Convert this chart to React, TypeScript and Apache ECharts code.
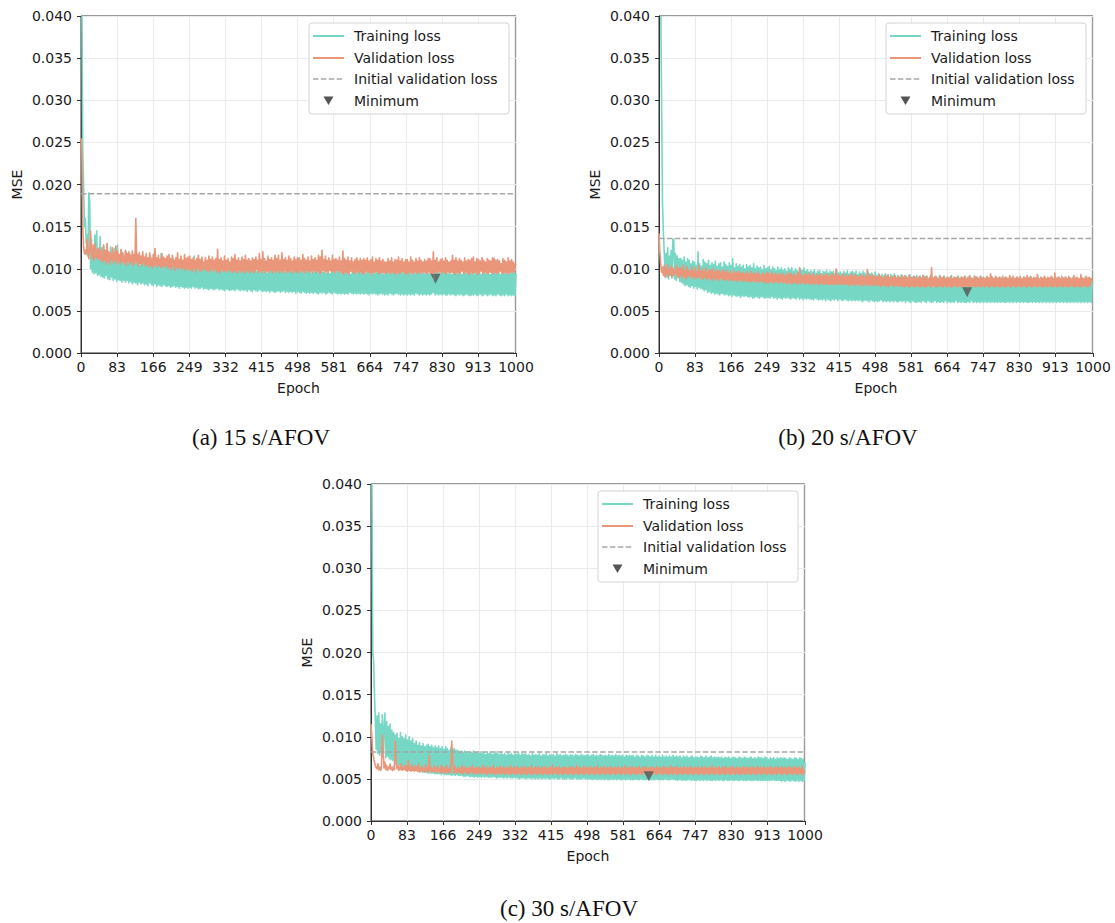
import React, { useEffect, useRef } from "react";
import * as echarts from "echarts";

// ---------- DATA ----------
// Losses every 2 epochs (epochs 0,2,4,...,1000), in units of 1e-4 MSE.
const EPOCH_STEP = 2;
const UNIT = 1e-4;
const X_TICK_INTERVAL = 83;
const Y_MAX = 0.04;
const Y_INTERVAL = 0.005;

const CAPTIONS = ["(a) 15 s/AFOV", "(b) 20 s/AFOV", "(c) 30 s/AFOV"];
const LEGEND_LABELS = ["Training loss", "Validation loss", "Initial validation loss", "Minimum"];

const TRAIN_A = [
  450,420,240,200,150,160,130,140,115,190,180,100,135,96,125,94,140,95,145,92,120,93,138,91,125,
  90,128,89,118,92,130,88,115,87,126,90,112,86,124,88,120,85,128,87,110,86,122,84,118,86,
  112,84,120,86,108,83,118,85,110,82,116,84,106,83,114,81,112,84,104,82,115,83,108,81,110,
  82,112,80,106,83,115,81,104,80,110,82,108,79,113,81,105,80,118,79,108,81,104,80,111,79,
  106,80,110,78,104,79,112,80,102,78,108,79,105,77,110,79,100,78,107,77,104,78,109,77,103,
  78,106,77,102,79,115,77,104,78,100,76,107,77,103,78,99,76,105,77,101,76,104,75,100,77,
  103,76,99,75,105,76,100,77,97,75,104,76,98,75,102,74,100,76,96,75,103,74,99,75,101,
  75,98,74,102,76,97,75,100,74,104,75,96,74,101,75,98,73,103,75,97,74,100,73,99,75,
  102,74,97,73,100,75,96,74,103,73,98,74,101,73,95,74,100,72,97,74,102,73,96,72,99,
  73,100,74,96,72,101,73,97,74,99,72,95,73,102,72,97,73,100,72,96,73,98,71,101,73,
  97,72,100,71,95,73,99,72,96,71,101,72,97,71,98,72,94,71,100,72,96,71,99,70,95,
  72,99,71,96,72,100,70,95,71,98,72,94,71,99,70,97,72,95,71,100,70,96,71,98,70,
  97,71,94,70,99,71,95,70,98,72,93,71,97,70,99,71,94,70,96,71,98,70,95,71,97,
  70,94,71,98,70,95,69,97,71,93,70,99,71,94,70,96,69,98,70,95,71,97,70,93,69,
  96,70,98,69,94,71,97,70,95,69,99,70,93,71,96,70,98,69,94,70,97,69,95,70,98,
  69,95,70,97,69,93,70,98,69,95,71,94,70,97,69,96,70,93,69,98,70,94,69,96,70,
  94,69,97,70,93,72,86,69,98,70,94,69,96,70,93,69,97,70,95,69,98,69,94,70,96,
  69,93,70,97,69,95,68,98,70,94,69,96,70,93,68,97,69,95,70,94,69,98,68,95,69,
  96,69,93,70,97,68,94,69,96,70,93,68,98,69,95,70,94,68,97,69,93,70,96,68,95,
  69,97,68,94,70,96,69,93,68,98,69,95,68,94,70,97,68,93,69,96,68,95,69,97,68,
  94,
];

const VAL_A = [
  255,240,150,125,118,122,117,135,120,112,125,145,118,112,128,110,130,115,113,124,112,125,110,122,113,
  108,128,110,122,106,130,109,120,105,118,111,125,107,119,110,127,106,121,109,117,105,123,108,119,110,
  107,122,104,118,109,120,105,116,108,121,104,117,106,160,108,117,103,119,106,115,104,120,107,114,103,
  118,105,113,102,119,104,112,101,117,103,124,105,113,102,116,104,111,101,118,103,114,102,112,104,115,
  100,117,102,112,99,116,103,110,98,113,101,119,100,111,102,115,99,110,101,117,98,112,100,114,99,
  115,99,111,97,113,100,110,96,112,101,116,98,111,97,114,99,108,100,113,97,110,98,115,96,111,
  100,114,97,110,99,112,96,123,97,111,95,113,99,109,97,115,98,110,96,112,99,108,97,114,96,
  112,96,117,98,110,95,113,98,109,96,114,97,111,95,116,98,110,97,112,95,109,98,113,96,111,
  96,114,99,110,95,118,97,111,96,120,98,112,95,109,97,115,96,111,98,113,95,110,97,116,96,
  112,98,116,95,110,97,119,96,111,98,113,95,110,97,115,96,112,98,109,95,114,97,111,96,113,
  95,113,98,110,96,117,97,112,95,110,98,114,96,109,97,115,95,111,98,113,96,110,97,116,95,
  114,95,122,98,111,96,115,97,110,95,113,98,109,96,116,97,111,95,112,98,110,96,114,97,109,
  95,121,93,112,96,110,95,114,94,109,97,113,95,108,96,111,94,113,97,109,95,112,96,110,94,
  112,94,110,97,113,95,109,96,111,93,114,96,108,95,112,97,110,94,113,95,109,96,111,95,108,
  94,108,96,112,95,109,94,113,96,108,95,111,93,110,96,114,94,109,95,112,97,108,94,111,95,
  111,93,108,96,114,94,110,95,108,96,112,94,109,95,113,96,110,94,108,97,111,95,109,94,112,
  96,112,94,109,95,120,94,110,96,113,95,108,97,111,94,112,96,109,95,113,94,110,96,108,95,
  109,96,116,95,110,93,113,96,109,94,112,95,110,97,108,94,113,96,109,95,111,93,110,96,112,
  94,114,95,108,96,112,93,111,95,109,97,113,94,110,96,108,95,112,94,110,96,109,95,113,94,
  112,96,110,94,111,95,109,97,106,95,112,94,110,96,108,95,113,94,109,96,111,95,108,97,106,
  104,
];

const TRAIN_B = [
  450,450,420,300,180,145,120,95,118,90,125,88,115,92,122,89,135,135,88,118,86,115,90,112,85,
  112,84,110,82,114,80,108,81,112,79,110,78,106,80,109,77,108,79,104,76,120,78,106,77,103,
  76,111,74,108,75,106,72,110,73,104,71,107,72,105,70,109,71,103,70,106,69,107,71,102,70,
  108,69,105,70,103,68,107,69,104,67,112,69,101,68,106,67,103,68,105,66,102,68,104,67,100,
  68,105,67,102,66,104,67,101,65,106,66,100,67,103,66,101,65,102,67,99,66,104,65,100,66,
  101,66,103,65,99,67,102,65,100,66,98,64,102,66,99,65,101,64,98,66,100,65,97,66,101,
  65,99,64,101,66,97,65,100,64,98,66,96,64,100,65,98,63,101,65,97,64,99,65,96,64,
  98,64,96,63,99,65,95,64,97,63,98,64,94,63,97,64,96,62,98,64,95,63,97,62,96,
  64,97,63,94,64,98,62,95,64,96,63,94,62,97,64,95,63,98,62,94,63,96,62,97,63,
  95,62,97,63,93,62,96,63,94,61,97,62,95,63,93,62,96,61,94,63,95,62,92,61,96,
  62,92,61,94,62,90,63,93,61,91,62,94,61,92,62,90,61,93,62,91,61,94,62,90,61,
  92,61,90,62,93,61,89,62,92,60,91,62,89,61,93,60,90,62,91,61,89,60,92,61,90,
  61,91,60,89,62,92,61,90,60,91,62,88,61,92,60,90,61,89,62,91,60,88,61,92,60,
  90,61,89,60,91,62,88,60,90,61,89,60,92,61,88,60,90,62,89,60,91,61,88,60,90,
  61,89,60,91,60,88,61,90,60,89,62,88,60,91,61,89,60,90,61,88,60,91,61,89,60,
  88,61,90,60,89,61,87,60,91,61,88,60,90,61,89,60,88,61,90,60,89,61,87,60,90,
  60,89,61,88,60,90,61,87,60,89,61,88,60,90,61,88,60,89,61,87,60,90,61,88,60,
  89,60,88,61,90,60,87,61,89,60,88,61,90,60,87,61,89,60,88,61,90,60,88,61,89,
  60,88,61,90,60,87,61,89,60,88,61,90,60,87,61,89,60,88,61,90,60,87,61,89,60,
  88,61,90,60,87,61,89,60,88,61,86,60,89,61,88,60,90,61,87,60,89,61,88,60,85,
  82,
];

const VAL_B = [
  142,120,105,96,102,92,104,90,100,93,105,91,99,94,103,90,101,92,98,95,104,91,100,89,102,
  92,100,89,104,91,98,88,103,90,99,92,97,89,102,91,98,88,101,90,96,89,104,91,97,88,
  100,88,97,90,101,87,96,89,99,88,98,86,100,89,96,87,99,88,97,86,98,89,95,87,99,
  87,96,86,98,88,95,86,97,87,94,85,98,87,95,86,96,85,97,87,94,86,96,85,95,86,
  94,85,96,86,93,84,97,85,94,86,95,84,93,85,96,84,94,86,92,85,95,84,93,83,96,
  84,95,83,93,85,96,84,92,83,95,85,93,84,94,83,92,85,95,83,93,84,91,83,95,82,
  93,84,95,82,92,83,94,84,92,82,95,83,101,82,93,84,91,83,94,82,92,83,95,82,93,
  82,92,83,94,81,91,83,93,82,92,81,94,83,91,82,93,81,92,83,94,81,91,82,93,81,
  94,82,91,81,100,82,93,81,92,83,91,81,94,82,90,81,93,82,91,80,92,81,94,82,91,
  80,93,81,91,82,90,80,93,81,91,80,92,82,90,80,99,81,92,80,91,81,93,80,90,81,
  92,80,90,81,93,79,91,80,89,81,92,79,90,80,93,79,89,81,91,80,90,79,92,80,89,
  80,91,79,89,80,92,79,90,78,91,80,89,79,92,78,90,80,89,79,91,78,90,80,88,79,
  91,78,89,80,92,79,90,78,91,79,88,80,90,78,101,79,89,80,91,78,90,79,88,80,91,
  79,89,78,91,80,88,79,90,78,89,80,91,78,88,79,90,80,89,78,91,79,88,80,90,78,
  89,79,91,78,88,80,90,79,92,78,89,80,88,79,91,78,90,80,88,79,91,78,89,80,90,
  78,88,80,91,79,89,78,94,80,90,79,88,78,91,80,89,79,90,78,88,80,91,79,89,78,
  90,79,88,80,92,78,89,79,91,80,88,78,90,79,89,80,91,78,88,79,90,80,89,78,92,
  79,89,80,91,78,88,79,90,80,89,78,93,79,88,80,90,78,89,79,91,80,88,78,90,79,
  89,80,91,78,88,79,95,80,89,78,90,79,88,80,91,78,89,79,90,80,88,78,91,79,89,
  80,88,79,92,78,89,80,90,79,88,78,93,80,89,79,88,80,91,78,89,79,90,80,88,85,
  86,
];

const TRAIN_C = [
  450,420,200,190,150,120,85,125,80,128,78,115,82,126,76,110,128,75,118,77,112,74,115,73,108,
  72,105,70,102,68,104,67,98,66,105,65,100,64,98,63,102,63,96,62,100,62,95,61,98,61,
  92,60,95,60,90,59,93,59,89,58,92,58,88,58,90,57,91,57,88,57,90,57,87,56,89,
  56,87,56,89,56,86,55,88,56,85,55,88,55,86,55,84,55,87,54,85,55,86,54,84,55,
  84,54,82,54,83,54,81,53,83,53,82,54,80,53,82,53,81,53,83,52,81,53,82,52,80,
  53,82,52,80,53,81,52,79,53,82,52,80,52,81,52,79,53,80,52,82,51,80,52,79,52,
  81,52,79,51,80,52,78,51,81,52,79,51,80,51,78,52,80,51,79,51,81,50,78,51,80,
  51,79,51,80,50,78,51,79,51,77,50,80,51,78,50,79,51,78,50,80,51,77,50,79,51,
  78,50,80,51,77,50,79,50,78,51,79,50,77,51,80,50,78,50,79,51,77,50,78,50,79,
  50,78,51,77,50,79,50,78,50,77,51,79,50,78,50,77,50,79,50,78,51,77,50,78,50,
  79,50,77,50,78,49,79,50,77,50,78,49,77,50,79,49,78,50,77,49,78,50,77,49,79,
  49,77,50,78,49,77,50,79,49,77,50,78,49,77,49,78,50,76,49,78,49,77,50,78,49,
  77,49,78,49,76,50,78,49,77,49,76,50,78,49,77,49,76,49,78,50,77,49,76,49,78,
  49,76,49,78,50,76,49,77,49,76,49,78,49,76,50,77,49,76,49,77,49,76,50,78,49,
  76,49,77,48,76,49,77,49,75,48,77,49,76,48,77,49,75,49,76,48,77,49,75,48,76,
  48,76,49,75,48,77,49,76,48,75,49,77,48,75,49,76,48,77,48,75,49,76,48,75,49,
  76,48,75,49,76,48,74,48,76,49,75,48,76,48,74,49,75,48,76,48,75,49,74,48,76,
  48,75,49,74,48,76,48,75,48,74,49,75,48,76,48,74,48,75,49,74,48,76,48,75,48,
  75,48,74,48,76,48,75,48,73,48,75,48,74,49,75,48,73,48,75,48,74,48,75,47,74,
  48,75,47,74,48,73,48,75,47,74,48,73,48,75,47,74,48,73,47,75,48,74,47,73,48,
  70,
];

const VAL_C = [
  115,100,80,75,70,66,63,62,68,61,64,60,62,102,85,63,70,61,66,60,64,62,68,61,63,
  60,65,61,95,70,62,66,60,64,61,68,60,63,61,66,60,65,59,72,60,64,59,67,60,63,
  59,66,60,64,59,68,58,63,60,65,59,62,58,67,59,63,58,78,60,64,58,62,59,66,58,
  63,58,65,59,62,57,66,58,64,57,63,58,66,57,62,58,64,57,95,75,63,57,65,58,62,
  57,64,58,62,57,66,56,63,58,65,57,62,56,64,57,63,58,66,56,62,57,64,56,63,57,
  64,56,62,57,66,56,63,57,65,55,62,57,64,56,63,57,66,56,62,55,64,57,63,56,65,
  56,63,57,65,55,62,56,64,57,63,55,66,56,62,57,64,56,63,55,65,57,62,56,64,55,
  63,57,65,56,62,55,64,57,63,56,66,55,62,57,64,56,63,55,65,57,62,56,64,55,63,
  57,65,56,62,55,64,57,63,56,67,55,62,57,64,56,63,55,65,57,62,56,64,55,63,57,
  64,56,62,55,65,57,63,56,64,55,62,57,66,56,63,55,64,57,62,56,65,55,63,57,64,
  56,63,55,65,57,62,56,64,55,63,57,66,56,62,55,64,57,63,56,65,55,62,57,64,56,
  63,55,65,57,62,56,64,55,63,57,65,56,62,55,64,57,63,56,66,55,62,57,64,56,63,
  55,65,57,62,56,64,55,63,57,65,56,62,55,64,57,63,56,65,55,62,57,64,56,63,55,
  64,57,62,56,65,55,63,57,64,56,62,55,65,57,63,56,64,55,62,57,66,56,63,55,64,
  57,63,56,65,55,62,57,64,56,63,55,65,57,62,56,64,55,63,57,65,56,62,55,64,57,
  63,56,65,55,62,57,64,56,63,55,65,57,62,56,64,55,63,57,66,56,62,55,64,57,63,
  56,65,55,62,57,64,56,63,55,65,57,62,56,64,55,63,57,65,56,62,55,64,57,63,56,
  64,55,62,57,65,56,63,55,64,57,62,56,65,55,63,57,64,56,62,55,65,57,63,56,64,
  55,63,57,65,56,62,55,64,57,63,56,65,55,62,57,64,56,63,55,65,57,62,56,64,55,
  63,57,64,56,62,55,65,57,63,56,64,55,62,57,65,56,63,55,64,57,62,56,65,55,60,
  58,
];

const TRAIN = [TRAIN_A, TRAIN_B, TRAIN_C];
const VAL = [VAL_A, VAL_B, VAL_C];
const INITIAL_VAL = [0.0189, 0.0136, 0.0082];
const MIN_EPOCH = [815, 710, 640];
const MIN_VALUE = [0.0088, 0.0072, 0.0053];

// ---------- STYLE / LAYOUT ----------
const TEAL = "#76d7c4";
const SALMON = "#e9967a";
const GRAY_DASH = "#a6a6a6";
const MARKER = "#555555";
const TEXT = "#1a1a1a";
const FONT = "DejaVu Sans";
const FS = 14;

const GRIDS = [
  { left: 81, top: 16, width: 435, height: 337 },
  { left: 659, top: 16, width: 434, height: 337 },
  { left: 371, top: 484, width: 434, height: 337 },
];
const CAPTION_POS = [
  { x: 261, y: 437 },
  { x: 848, y: 437 },
  { x: 569, y: 908 },
];

function toPairs(values: number[]) {
  return values.map((v, i) => [i * EPOCH_STEP, v * UNIT]);
}

function legendGroup(g: { left: number; top: number; width: number }) {
  const x0 = g.left + g.width - 207;
  const y0 = g.top + 7;
  const label = (t: string, y: number) => ({
    type: "text",
    x: 45,
    y,
    z: 102,
    style: {
      text: t,
      fill: TEXT,
      fontSize: FS,
      fontFamily: FONT,
      verticalAlign: "middle",
      align: "left",
    },
  });
  return {
    type: "group",
    x: x0,
    y: y0,
    children: [
      {
        type: "rect",
        z: 100,
        shape: { x: 0, y: 0, width: 200, height: 91, r: 3 },
        style: { fill: "#ffffff", stroke: "#d4d4d4", lineWidth: 1 },
      },
      {
        type: "line",
        z: 101,
        shape: { x1: 4, y1: 13, x2: 35, y2: 13 },
        style: { stroke: TEAL, lineWidth: 2 },
      },
      label(LEGEND_LABELS[0], 13),
      {
        type: "line",
        z: 101,
        shape: { x1: 4, y1: 35, x2: 35, y2: 35 },
        style: { stroke: SALMON, lineWidth: 2 },
      },
      label(LEGEND_LABELS[1], 35),
      {
        type: "line",
        z: 101,
        shape: { x1: 4, y1: 56, x2: 35, y2: 56 },
        style: { stroke: GRAY_DASH, lineWidth: 1.5, lineDash: [5.5, 2.4] },
      },
      label(LEGEND_LABELS[2], 56),
      {
        type: "polygon",
        z: 101,
        shape: { points: [[14.5, 73.5], [24.5, 73.5], [19.5, 82]] },
        style: { fill: MARKER },
      },
      label(LEGEND_LABELS[3], 78),
    ],
  };
}

export default function App() {
  const ref = useRef<HTMLDivElement>(null);

  useEffect(() => {
    if (!ref.current) return;
    const chart = echarts.init(ref.current, undefined, { renderer: "svg" });

    const xAxes = GRIDS.map((_, i) => ({
      type: "value",
      gridIndex: i,
      min: 0,
      max: 1000,
      interval: X_TICK_INTERVAL,
      name: "Epoch",
      nameLocation: "middle",
      nameGap: 28,
      nameTextStyle: { color: TEXT, fontSize: FS, fontFamily: FONT },
      axisLine: { show: true, lineStyle: { color: "#333", width: 1 } },
      axisTick: { show: true, inside: false, length: 4, lineStyle: { color: "#333" } },
      axisLabel: {
        color: TEXT,
        fontSize: FS,
        fontFamily: FONT,
        margin: 7,
        showMaxLabel: true,
        showMinLabel: true,
        formatter: (v: number) => String(Math.round(v)),
      },
      splitLine: { show: true, lineStyle: { color: "#ebebeb", width: 1 } },
    }));

    const yAxes = GRIDS.map((_, i) => ({
      type: "value",
      gridIndex: i,
      min: 0,
      max: Y_MAX,
      interval: Y_INTERVAL,
      name: "MSE",
      nameLocation: "middle",
      nameRotate: 90,
      nameGap: 57,
      nameTextStyle: { color: TEXT, fontSize: FS, fontFamily: FONT },
      axisLine: { show: true, lineStyle: { color: "#333", width: 1 } },
      axisTick: { show: true, inside: false, length: 4, lineStyle: { color: "#333" } },
      axisLabel: {
        color: TEXT,
        fontSize: FS,
        fontFamily: FONT,
        margin: 9,
        formatter: (v: number) => v.toFixed(3),
      },
      splitLine: { show: true, lineStyle: { color: "#ebebeb", width: 1 } },
    }));

    const series: any[] = [];
    GRIDS.forEach((_, i) => {
      series.push({
        name: LEGEND_LABELS[0],
        type: "line",
        xAxisIndex: i,
        yAxisIndex: i,
        data: toPairs(TRAIN[i]),
        showSymbol: false,
        symbol: "none",
        clip: true,
        silent: true,
        z: 2,
        lineStyle: { color: TEAL, width: 1.6, join: "round" },
      });
      series.push({
        name: LEGEND_LABELS[1],
        type: "line",
        xAxisIndex: i,
        yAxisIndex: i,
        data: toPairs(VAL[i]),
        showSymbol: false,
        symbol: "none",
        clip: true,
        silent: true,
        z: 3,
        lineStyle: { color: SALMON, width: 1.6, join: "round" },
      });
      series.push({
        name: LEGEND_LABELS[2],
        type: "line",
        xAxisIndex: i,
        yAxisIndex: i,
        data: [
          [0, INITIAL_VAL[i]],
          [1000, INITIAL_VAL[i]],
        ],
        showSymbol: false,
        symbol: "none",
        silent: true,
        z: 4,
        lineStyle: { color: GRAY_DASH, width: 1.5, type: [5.5, 2.4] },
      });
      series.push({
        name: LEGEND_LABELS[3],
        type: "scatter",
        xAxisIndex: i,
        yAxisIndex: i,
        data: [[MIN_EPOCH[i], MIN_VALUE[i]]],
        symbol: "triangle",
        symbolRotate: 180,
        symbolSize: 10,
        silent: true,
        z: 5,
        itemStyle: { color: MARKER },
      });
    });

    const graphics: any[] = [];
    GRIDS.forEach((g, i) => {
      graphics.push(legendGroup(g));
      graphics.push({
        type: "text",
        x: CAPTION_POS[i].x,
        y: CAPTION_POS[i].y,
        style: {
          text: CAPTIONS[i],
          fill: "#111",
          fontSize: 23,
          fontFamily: "Liberation Serif",
          align: "center",
          verticalAlign: "middle",
        },
      });
    });

    chart.setOption({
      animation: false,
      backgroundColor: "#ffffff",
      grid: GRIDS.map((g) => ({
        ...g,
        show: true,
        borderColor: "#333",
        borderWidth: 1,
        backgroundColor: "transparent",
        containLabel: false,
      })),
      xAxis: xAxes,
      yAxis: yAxes,
      series,
      graphic: graphics,
    });

    return () => {
      chart.dispose();
    };
  }, []);

  return (
    <div
      ref={ref}
      style={{ position: "absolute", left: 0, top: 0, width: 1115, height: 923 }}
    />
  );
}
